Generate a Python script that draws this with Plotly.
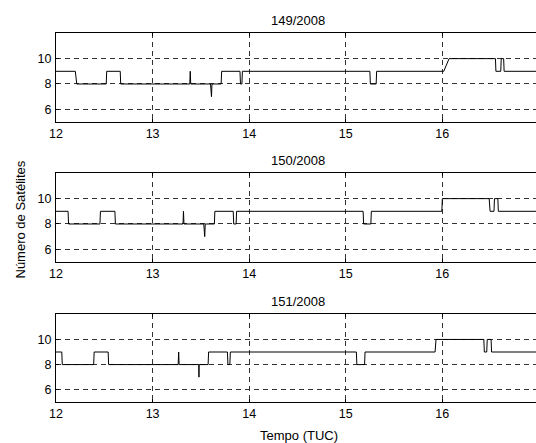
import plotly.graph_objects as go

# ---- data ----
days = ["149/2008", "150/2008", "151/2008"]

t149 = [12.0, 12.2, 12.215, 12.52, 12.525, 12.665, 12.67, 13.385, 13.39, 13.395,
        13.6, 13.61, 13.615, 13.71, 13.715, 13.905, 13.91, 13.925, 13.93, 15.25,
        15.255, 15.315, 15.32, 16.015, 16.07, 16.55, 16.555, 16.605, 16.61, 16.635,
        16.64, 17.0]
n149 = [9, 9, 8, 8, 9, 9, 8, 8, 9, 8, 8, 7, 8, 8, 9, 9, 8, 8, 9, 9, 8, 8, 9, 9,
        10, 10, 9, 9, 10, 10, 9, 9]

t150 = [12.0, 12.125, 12.13, 12.455, 12.46, 12.61, 12.615, 13.315, 13.32, 13.325,
        13.53, 13.54, 13.545, 13.64, 13.645, 13.835, 13.84, 13.865, 13.87, 15.18,
        15.185, 15.26, 15.265, 15.995, 16.0, 16.485, 16.495, 16.535, 16.54, 16.575,
        16.58, 17.0]
n150 = [9, 9, 8, 8, 9, 9, 8, 8, 9, 8, 8, 7, 8, 8, 9, 9, 8, 8, 9, 9, 8, 8, 9, 9,
        10, 10, 9, 9, 10, 10, 9, 9]

t151 = [12.0, 12.06, 12.065, 12.39, 12.395, 12.54, 12.545, 13.265, 13.27, 13.275,
        13.478, 13.48, 13.482, 13.575, 13.58, 13.775, 13.78, 13.80, 13.805, 15.11,
        15.115, 15.195, 15.2, 15.925, 15.935, 16.43, 16.435, 16.46, 16.465, 16.505,
        16.51, 17.0]
n151 = [9, 9, 8, 8, 9, 9, 8, 8, 9, 8, 8, 7, 8, 8, 9, 9, 8, 8, 9, 9, 8, 8, 9, 9,
        10, 10, 9, 9, 10, 10, 9, 9]

series = [(t149, n149), (t150, n150), (t151, n151)]
x_ticks = [12, 13, 14, 15, 16]
y_ticks = [6, 8, 10]

W, H = 536, 443
panels_px = [(33.3, 122.0), (173.3, 262.0), (314.3, 402.3)]

FONT = "Liberation Sans, Arial, sans-serif"
TICK_SIZE = 12.5
TEXT_SIZE = 13

fig = go.Figure()
layout = dict(
    width=W, height=H,
    margin=dict(l=56, r=0, t=0, b=0),
    paper_bgcolor="white", plot_bgcolor="white",
    showlegend=False,
    font=dict(family=FONT, size=12, color="black"),
)
annotations = []
for i, ((t, n), (top, bot)) in enumerate(zip(series, panels_px)):
    k = "" if i == 0 else str(i + 1)
    fig.add_trace(go.Scatter(x=t, y=n, mode="lines",
                             line=dict(color="black", width=1),
                             xaxis="x" + k, yaxis="y" + k, hoverinfo="skip"))
    layout["xaxis" + k] = dict(
        domain=[0, 1], anchor="y" + k, range=[12, 16.97],
        tickvals=x_ticks, ticktext=[str(v) for v in x_ticks],
        showgrid=True, gridcolor="#333333", griddash="5px,4px", gridwidth=1,
        showline=True, linecolor="black", linewidth=1.3, mirror="ticks",
        ticks="inside", ticklen=3, tickcolor="black",
        zeroline=False, automargin=False,
        tickfont=dict(family=FONT, size=TICK_SIZE),
    )
    layout["yaxis" + k] = dict(
        domain=[1 - bot / H, 1 - top / H], anchor="x" + k, range=[5, 12],
        tickvals=y_ticks, ticktext=[str(v) for v in y_ticks],
        showgrid=True, gridcolor="#333333", griddash="5px,4px", gridwidth=1,
        showline=True, linecolor="black", linewidth=1.3, mirror=False,
        ticks="inside", ticklen=3, tickcolor="black",
        zeroline=False, automargin=False, ticklabelstandoff=1,
        tickfont=dict(family=FONT, size=TICK_SIZE),
    )
    annotations.append(dict(
        text=days[i], x=(298 - 56) / (W - 56), xref="paper",
        y=1 - (top - 12.5) / H, yref="paper",
        showarrow=False, font=dict(family=FONT, size=TEXT_SIZE),
        xanchor="center", yanchor="middle",
    ))

annotations.append(dict(
    text="Número de Satélites", textangle=-90,
    x=-(56 - 20.5) / (W - 56), xref="paper", y=1 - 220 / H, yref="paper",
    showarrow=False, font=dict(family=FONT, size=TEXT_SIZE),
    xanchor="center", yanchor="middle",
))
annotations.append(dict(
    text="Tempo (TUC)",
    x=(298.5 - 56) / (W - 56), xref="paper", y=1 - 435 / H, yref="paper",
    showarrow=False, font=dict(family=FONT, size=TEXT_SIZE),
    xanchor="center", yanchor="middle",
))
layout["annotations"] = annotations
fig.update_layout(**layout)
fig.write_html("out.html",
               config={"displayModeBar": False},
               post_script="document.body.style.margin='0';document.body.style.overflow='hidden';")
